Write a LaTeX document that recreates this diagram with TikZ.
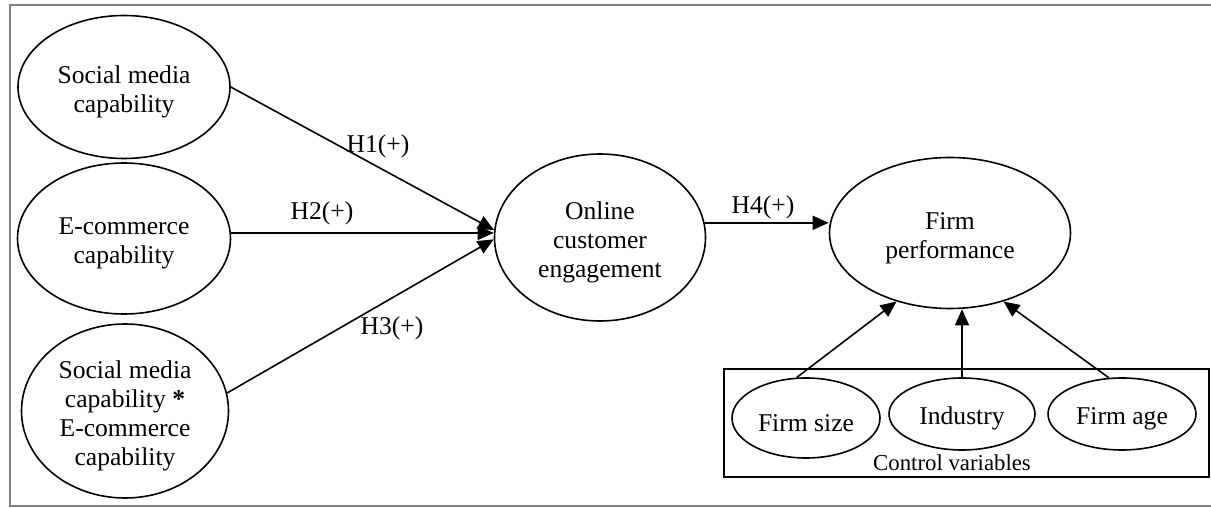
\documentclass[tikz,border=0pt]{standalone}
\usepackage{fontspec}
\setmainfont{Liberation Serif}
\usetikzlibrary{shapes.geometric,arrows.meta}
\newcommand{\dropline}{\rule{0pt}{13.5pt}}
\begin{document}
\begin{tikzpicture}[x=0.5pt,y=-0.5pt,
  ell/.style={draw, ellipse, line width=0.8pt, inner sep=0pt, align=center, font=\fontsize{12.8}{14.5}\selectfont, execute at begin node={\dropline}},
  arr/.style={line width=0.8pt, -{Triangle[length=8pt,width=7pt]}},
  lab/.style={font=\fontsize{12.8}{14.5}\selectfont, inner sep=0pt},
  frameline/.style={line width=1.2pt, draw={rgb,255:red,128;green,128;blue,128}}]
\useasboundingbox (0,0) rectangle (1211,508);
\draw[frameline] (1211,5) -- (10,5) -- (10,506) -- (1211,506);

\node[ell, minimum width=106pt, minimum height=71.5pt] (smc) at (124,87) {\dropline Social media\\capability};
\node[ell, minimum width=106.5pt, minimum height=75.5pt] (ec) at (124,238.5) {\dropline E-commerce\\capability};
\node[ell, minimum width=103.5pt, minimum height=87pt] (smec) at (125,411) {\dropline Social media\\capability \textbf{*}\\E-commerce\\capability};
\node[ell, minimum width=105.5pt, minimum height=83.5pt] (oce) at (600,237.5) {\dropline Online\\customer\\engagement};
\node[ell, minimum width=120.5pt, minimum height=75.5pt] (fp) at (950,233) {\dropline Firm\\performance};

\node[draw, line width=0.8pt, minimum width=242.5pt, minimum height=54pt, inner sep=0pt] (cv) at (966.5,423) {};
\node[ell, minimum width=74pt, minimum height=40pt] (fs) at (806,418) {Firm size};
\node[ell, minimum width=73pt, minimum height=36pt] (ind) at (962,414) {Industry};
\node[ell, minimum width=74pt, minimum height=36pt] (fa) at (1122,414) {Firm age};
\node[font=\fontsize{11.4}{13}\selectfont, inner sep=0pt] (cvl) at (952,463) {Control variables};

\draw[arr] (smc.east) -- (oce.176);
\draw[arr] (ec.3) -- (oce.west |- ec.3);
\draw[arr] (smec.10) -- (oce.181);
\draw[arr] (oce.8) -- (fp.west |- oce.8);
\draw[arr] (fs.103) -- (fp.232);
\draw[arr] (ind.north) -- (ind.north |- fp.south);
\draw[arr] (fa.110) -- (fp.308);

\node[lab] (l1) at (378,146) {H1(+)};
\node[lab] (l2) at (322,213) {H2(+)};
\node[lab] (l3) at (392,328) {H3(+)};
\node[lab] (l4) at (763,207) {H4(+)};
\end{tikzpicture}
\end{document}
